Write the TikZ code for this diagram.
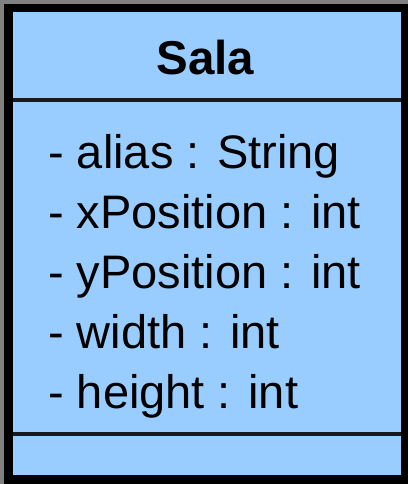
\documentclass[tikz,border=0pt]{standalone}
\usepackage{fontspec}
\setmainfont{Liberation Sans}
\definecolor{classfill}{HTML}{99CCFF}
\definecolor{margin}{HTML}{808080}
\definecolor{rule}{HTML}{1A1A1A}
\begin{document}
\begin{tikzpicture}[x=1pt,y=-1pt,
  titletext/.style={inner sep=0pt,anchor=base,font=\fontsize{47.5}{55}\selectfont\bfseries},
  attrtext/.style={inner sep=0pt,anchor=base west,font=\fontsize{47}{55}\selectfont},
  divider/.style={draw=rule,line width=4pt}]
  % canvas and margin
  \fill[margin] (0,0) rectangle (408,484);
  \useasboundingbox (0,0) rectangle (408,484);
  % class box: thick black frame with light blue body
  \fill[black] (4,4) rectangle (408,484);
  \fill[classfill] (13,12) rectangle (401,475);
  % compartment dividers
  \draw[divider] (13,100.3) -- (401,100.3);
  \draw[divider] (13,434.4) -- (401,434.4);
  % class name
  \node[titletext] (name) at (205.5,75) {Sala};
  % attributes
  \node[attrtext] (a1) at (48,168.5) {- alias : String};
  \node[attrtext] (a2) at (48,228.5) {- xPosition : int};
  \node[attrtext] (a3) at (48,288.5) {- yPosition : int};
  \node[attrtext] (a4) at (48,348.5) {- width : int};
  \node[attrtext] (a5) at (48,408.5) {- height : int};
\end{tikzpicture}
\end{document}
